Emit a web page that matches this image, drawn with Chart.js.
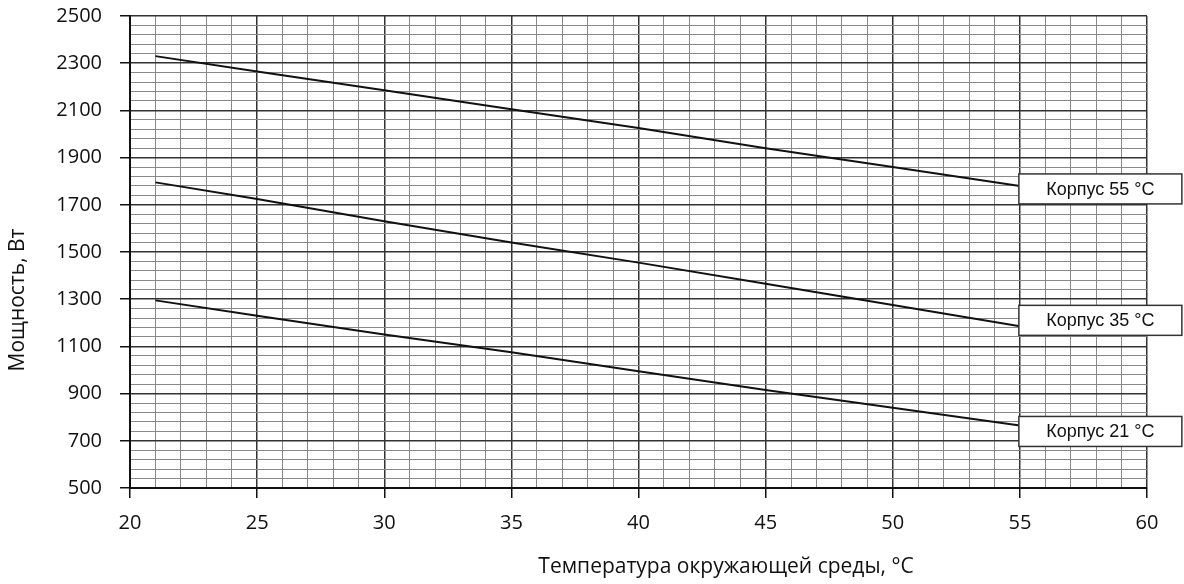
<!DOCTYPE html>
<html>
<head>
<meta charset="utf-8">
<script src="https://cdn.jsdelivr.net/npm/chart.js@4/dist/chart.umd.min.js"></script>
<style>
  html, body { margin: 0; padding: 0; background: #fff; }
  #wrap { width: 1184px; height: 584px; }
</style>
</head>
<body>
<div id="wrap"><canvas id="chart" width="1184" height="584"></canvas></div>
<script>
// Values
const temps = [21, 25, 30, 35, 40, 45, 50, 55];
const body55 = [2330, 2265, 2185, 2105, 2025, 1940, 1860, 1780];
const body35 = [1795, 1725, 1630, 1540, 1455, 1365, 1275, 1185];
const body21 = [1295, 1230, 1150, 1075, 995, 915, 840, 765];
const seriesNames = ['Корпус 55 °C', 'Корпус 35 °C', 'Корпус 21 °C'];

const xTitle = 'Температура окружающей среды, °C';
const yTitle = 'Мощность, Вт';

function toPoints(values) {
    return temps.map((t, i) => ({ x: t, y: values[i] }));
}

// Boxes with the series name next to the line end
const labelBoxes = {
    id: 'labelBoxes',
    afterDatasetsDraw(chart) {
        const ctx = chart.ctx;
        const shift = [3, -6, 6];
        chart.data.datasets.forEach((ds, i) => {
            const meta = chart.getDatasetMeta(i);
            const last = meta.data[meta.data.length - 1];
            const w = 163, h = 30;
            const left = last.x - 1;
            const top = last.y + shift[i] - h / 2;
            ctx.save();
            ctx.fillStyle = '#fff';
            ctx.fillRect(left, top, w, h);
            ctx.strokeStyle = '#333';
            ctx.lineWidth = 1.5;
            ctx.strokeRect(left, top, w, h);
            ctx.fillStyle = '#111';
            ctx.font = '18px "Liberation Sans", Arial, sans-serif';
            ctx.textAlign = 'center';
            ctx.textBaseline = 'middle';
            ctx.fillText(ds.label, left + w / 2, top + h / 2 + 1);
            ctx.restore();
        });
    }
};

// Axis titles sit off-centre in the reference, so draw them by hand
const axisTitles = {
    id: 'axisTitles',
    afterDraw(chart) {
        const ctx = chart.ctx;
        const a = chart.chartArea;
        ctx.save();
        ctx.fillStyle = '#111';
        ctx.font = '21px "Open Sans", sans-serif';
        ctx.textAlign = 'center';
        ctx.textBaseline = 'middle';
        ctx.fillText(xTitle, a.left + 596, a.bottom + 79);
        ctx.translate(18, a.top + 284);
        ctx.rotate(-Math.PI / 2);
        ctx.fillText(yTitle, 0, 0);
        ctx.restore();
    }
};

const lineStyle = {
    borderColor: '#111',
    borderWidth: 2,
    pointRadius: 0,
    tension: 0,
    fill: false
};

new Chart(document.getElementById('chart'), {
    type: 'line',
    data: {
        datasets: [
            Object.assign({ label: seriesNames[0], data: toPoints(body55) }, lineStyle),
            Object.assign({ label: seriesNames[1], data: toPoints(body35) }, lineStyle),
            Object.assign({ label: seriesNames[2], data: toPoints(body21) }, lineStyle)
        ]
    },
    options: {
        responsive: false,
        animation: false,
        layout: { padding: { top: 16, right: 37, left: 0, bottom: 0 } },
        plugins: {
            legend: { display: false },
            tooltip: { enabled: false }
        },
        scales: {
            x: {
                type: 'linear',
                min: 20,
                max: 60,
                afterFit(scale) {
                    scale.height = 96;
                    scale.paddingLeft = 0;
                    scale.paddingRight = 0;
                },
                border: { color: '#111', width: 2 },
                grid: {
                    color: c => (c.tick && c.tick.value % 5 === 0) ? '#333' : '#888',
                    lineWidth: c => (c.tick && c.tick.value % 5 === 0) ? 1.5 : 1,
                    tickColor: c => (c.tick && c.tick.value % 5 === 0) ? '#111' : 'rgba(0,0,0,0)',
                    tickLength: 10
                },
                ticks: {
                    stepSize: 1,
                    autoSkip: false,
                    maxRotation: 0,
                    padding: 13,
                    color: '#111',
                    font: { family: '"Open Sans", sans-serif', size: 20 },
                    callback: v => (v % 5 === 0 ? v : '')
                }
            },
            y: {
                min: 500,
                max: 2500,
                afterFit(scale) {
                    scale.width = 130;
                    scale.paddingTop = 0;
                    scale.paddingBottom = 0;
                },
                border: { color: '#111', width: 2 },
                grid: {
                    color: c => (c.tick && (c.tick.value - 500) % 200 === 0) ? '#333' : '#888',
                    lineWidth: c => (c.tick && (c.tick.value - 500) % 200 === 0) ? 1.5 : 1,
                    tickColor: c => (c.tick && (c.tick.value - 500) % 200 === 0) ? '#111' : 'rgba(0,0,0,0)',
                    tickLength: 10
                },
                ticks: {
                    stepSize: 40,
                    autoSkip: false,
                    padding: 18,
                    color: '#111',
                    font: { family: '"Open Sans", sans-serif', size: 20 },
                    callback: v => ((v - 500) % 200 === 0 ? v : '')
                }
            }
        }
    },
    plugins: [labelBoxes, axisTitles]
});
</script>
</body>
</html>
